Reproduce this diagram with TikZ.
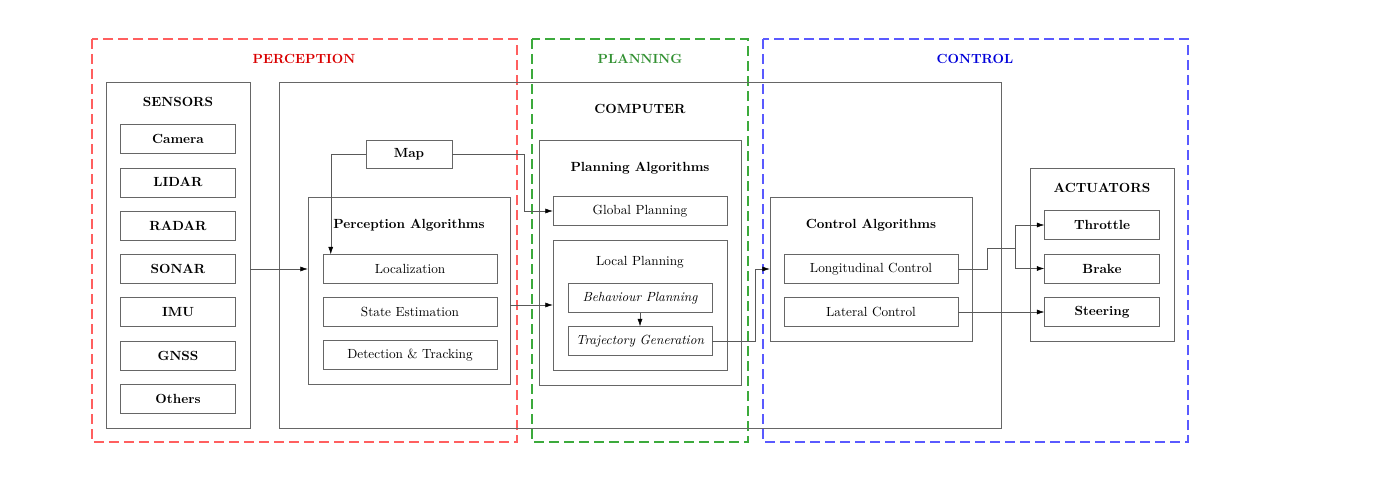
\documentclass[tikz,border=0pt]{standalone}
\usepackage{amsmath}
\usepackage{amssymb}
\usepackage{fontspec}
\usepackage{tikz}
\usetikzlibrary{
  arrows.meta,
  calc,
  positioning,
  shapes
}
\definecolor{percred}{RGB}{255,95,95}
\definecolor{plangreen}{RGB}{60,170,60}
\definecolor{ctrlblue}{RGB}{90,90,255}
\tikzset{
  group/.style={draw=black!60, inner sep=0pt},
  block/.style={draw=black!60, inner sep=0pt, minimum height=23.2pt},
  conn/.style={draw=black!65, -{Latex[length=6pt, width=4pt, black]}},
  zone/.style={dash pattern=on 8pt off 4pt, line width=1.1pt}
}

\begin{document}
\fontsize{10.6pt}{13pt}\selectfont
\begin{tikzpicture}[x=0.8pt, y=-0.8pt]
            \useasboundingbox (0, 0) rectangle (1376, 482);
            % zones
            \draw[zone, draw=percred] (92, 39) rectangle (517, 442);
            \draw[zone, draw=plangreen] (532, 39) rectangle (748, 442);
            \draw[zone, draw=ctrlblue] (763, 39) rectangle (1188, 442);
            \node[text=red!85!black] (perctitle) at (304, 59) {\bfseries PERCEPTION};
            \node[text=plangreen!85!black] (plantitle) at (640, 59) {\bfseries PLANNING};
            \node[text=blue!85!black] (ctrltitle) at (975, 59) {\bfseries CONTROL};
            % containers
            \node[group, minimum width=115.2pt, minimum height=276.8pt] (sensors) at (178, 255) {};
            \node (sensorstitle) at (178, 102) {\bfseries SENSORS};
            \node[group, minimum width=577.6pt, minimum height=276.8pt] (computer) at (640, 255) {};
            \node (computertitle) at (640, 109) {\bfseries COMPUTER};
            \node[group, minimum width=161.6pt, minimum height=149.6pt] (perc) at (409, 290.5) {};
            \node (perctext) at (409, 225) {\bfseries Perception Algorithms};
            \node[group, minimum width=161.6pt, minimum height=196pt] (plan) at (640, 262.5) {};
            \node (plantext) at (640, 168) {\bfseries Planning Algorithms};
            \node[group, minimum width=139.2pt, minimum height=104pt] (local) at (640, 305) {};
            \node (localtext) at (640, 262) {Local Planning};
            \node[group, minimum width=161.6pt, minimum height=115.2pt] (ctrl) at (871, 269) {};
            \node (ctrltext) at (871, 225) {\bfseries Control Algorithms};
            \node[group, minimum width=115.2pt, minimum height=138.4pt] (act) at (1102, 254.5) {};
            \node (acttitle) at (1102, 188) {\bfseries ACTUATORS};
            % sensors
            \node[block, minimum width=92pt, font=\bfseries] (cam) at (178, 139) {Camera};
            \node[block, minimum width=92pt, font=\bfseries] (lidar) at (178, 182.3) {LIDAR};
            \node[block, minimum width=92pt, font=\bfseries] (radar) at (178, 225.6) {RADAR};
            \node[block, minimum width=92pt, font=\bfseries] (sonar) at (178, 268.9) {SONAR};
            \node[block, minimum width=92pt, font=\bfseries] (imu) at (178, 312.2) {IMU};
            \node[block, minimum width=92pt, font=\bfseries] (gnss) at (178, 355.5) {GNSS};
            \node[block, minimum width=92pt, font=\bfseries] (others) at (178, 398.8) {Others};
            % perception
            \node[block, minimum width=68.8pt, minimum height=22.4pt, font=\bfseries] (map) at (409, 154) {Map};
            \node[block, minimum width=139.2pt] (loc) at (410, 269) {Localization};
            \node[block, minimum width=139.2pt] (state) at (410, 312) {State Estimation};
            \node[block, minimum width=139.2pt] (detect) at (410, 355) {Detection \& Tracking};
            % planning
            \node[block, minimum width=139.2pt] (global) at (640, 211) {Global Planning};
            \node[block, minimum width=115.2pt, font=\itshape] (behav) at (640, 298) {Behaviour Planning};
            \node[block, minimum width=115.2pt, font=\itshape] (traj) at (640, 341) {Trajectory Generation};
            % control
            \node[block, minimum width=139.2pt] (long) at (871, 269) {Longitudinal Control};
            \node[block, minimum width=139.2pt] (lat) at (871, 312) {Lateral Control};
            \node[block, minimum width=92pt, font=\bfseries] (throttle) at (1102, 225) {Throttle};
            \node[block, minimum width=92pt, font=\bfseries] (brake) at (1102, 268.5) {Brake};
            \node[block, minimum width=92pt, font=\bfseries] (steer) at (1102, 312) {Steering};
            % connections
            \draw[conn] (sensors.east |- loc) -- (perc.west |- loc);
            \draw[conn] (map.west) -| ($(loc.north west)+(8, 0)$);
            \draw[conn] (map.east) -| ($(global.west)+(-29, 0)$) -- (global.west);
            \draw[conn] (perc.east |- local.west) -- (local.west);
            \draw[conn] (behav) -- (traj);
            \draw[conn] (traj.east) -| ($(ctrl.west)+(-15, 0)$) -- (ctrl.west);
            \coordinate (split) at (1015, 248);
            \draw[conn] (long.east) -- ++(28.5, 0) |- (split) |- (throttle.west);
            \draw[conn] (split) |- (brake.west);
            \draw[conn] (lat.east) -- (steer.west);
          \end{tikzpicture}
\end{document}
